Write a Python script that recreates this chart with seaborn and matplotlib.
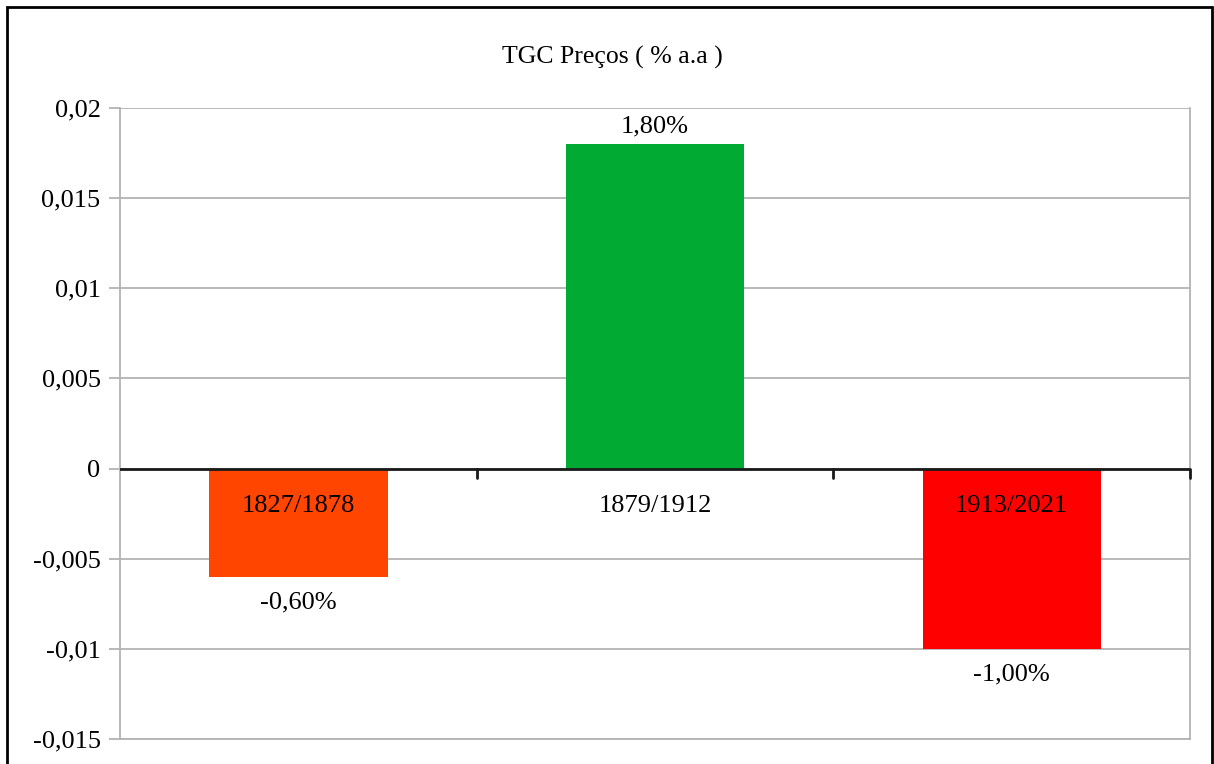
import matplotlib
matplotlib.use("Agg")
import matplotlib.pyplot as plt
import seaborn as sns
import pandas as pd
from matplotlib.patches import Rectangle

periods = ["1827/1878", "1879/1912", "1913/2021"]
growth = [-0.006, 0.018, -0.010]
bar_colors = ["#FF4500", "#00AA33", "#FF0000"]
value_labels = ["-0,60%", "1,80%", "-1,00%"]
y_ticks = [0.02, 0.015, 0.01, 0.005, 0, -0.005, -0.01, -0.015]
y_tick_labels = ["0,02", "0,015", "0,01", "0,005", "0", "-0,005", "-0,01", "-0,015"]
title = "TGC Preços ( % a.a )"

sns.set_theme(style="white")
plt.rcParams["font.family"] = ["Liberation Serif", "DejaVu Serif"]

W, H = 1214, 764
fig = plt.figure(figsize=(W / 100, H / 100), dpi=100)
ax = fig.add_axes([120 / W, 1 - 739 / H, (1190 - 120) / W, (739 - 108) / H])

df = pd.DataFrame({"periodo": periods, "taxa": growth})
sns.barplot(data=df, x="periodo", y="taxa", hue="periodo", palette=bar_colors,
            width=0.5, legend=False, ax=ax, saturation=1, linewidth=0,
            edgecolor="none")

ax.set_ylim(-0.015, 0.02)
ax.set_xlim(-0.5, 2.5)
ax.set_yticks(y_ticks)
ax.set_yticklabels(y_tick_labels, fontsize=19, color="black")
ax.set_xticks([])
ax.set_xlabel("")
ax.set_ylabel("")
ax.yaxis.grid(True, color="#b3b3b3", linewidth=1.3)
ax.set_axisbelow(True)
ax.tick_params(axis="y", length=8, width=1.3, color="#b3b3b3", pad=6, left=True)

for side in ["left", "right", "bottom"]:
    ax.spines[side].set_visible(True)
    ax.spines[side].set_color("#b3b3b3")
    ax.spines[side].set_linewidth(1.3)
ax.spines["top"].set_visible(False)

# zero baseline with category separators
ax.axhline(0, color="#1a1a1a", linewidth=2, zorder=3)
for xb in [0.5, 1.5, 2.5]:
    ax.plot([xb, xb], [0, -0.00055], color="#1a1a1a", linewidth=2,
            clip_on=False, zorder=3)

# category names just below the baseline
for i, p in enumerate(periods):
    ax.text(i, -0.00205, p, ha="center", va="center", fontsize=19,
            color="black", zorder=4)

# value labels
for i, (v, lab) in enumerate(zip(growth, value_labels)):
    if v >= 0:
        ax.text(i, v + 0.00100, lab, ha="center", va="center", fontsize=19,
                color="black")
    else:
        ax.text(i, v - 0.00142, lab, ha="center", va="center", fontsize=19,
                color="black")

fig.text(612 / W, 1 - 57 / H, title, ha="center", va="center", fontsize=18.5,
         color="black")

# outer frame
fig.patches.append(Rectangle((7 / W, -0.05), (1212 - 7) / W, (H - 7) / H + 0.05,
                             transform=fig.transFigure, fill=False,
                             edgecolor="black", linewidth=2))

fig.savefig("out.png", dpi=100, facecolor="white")
